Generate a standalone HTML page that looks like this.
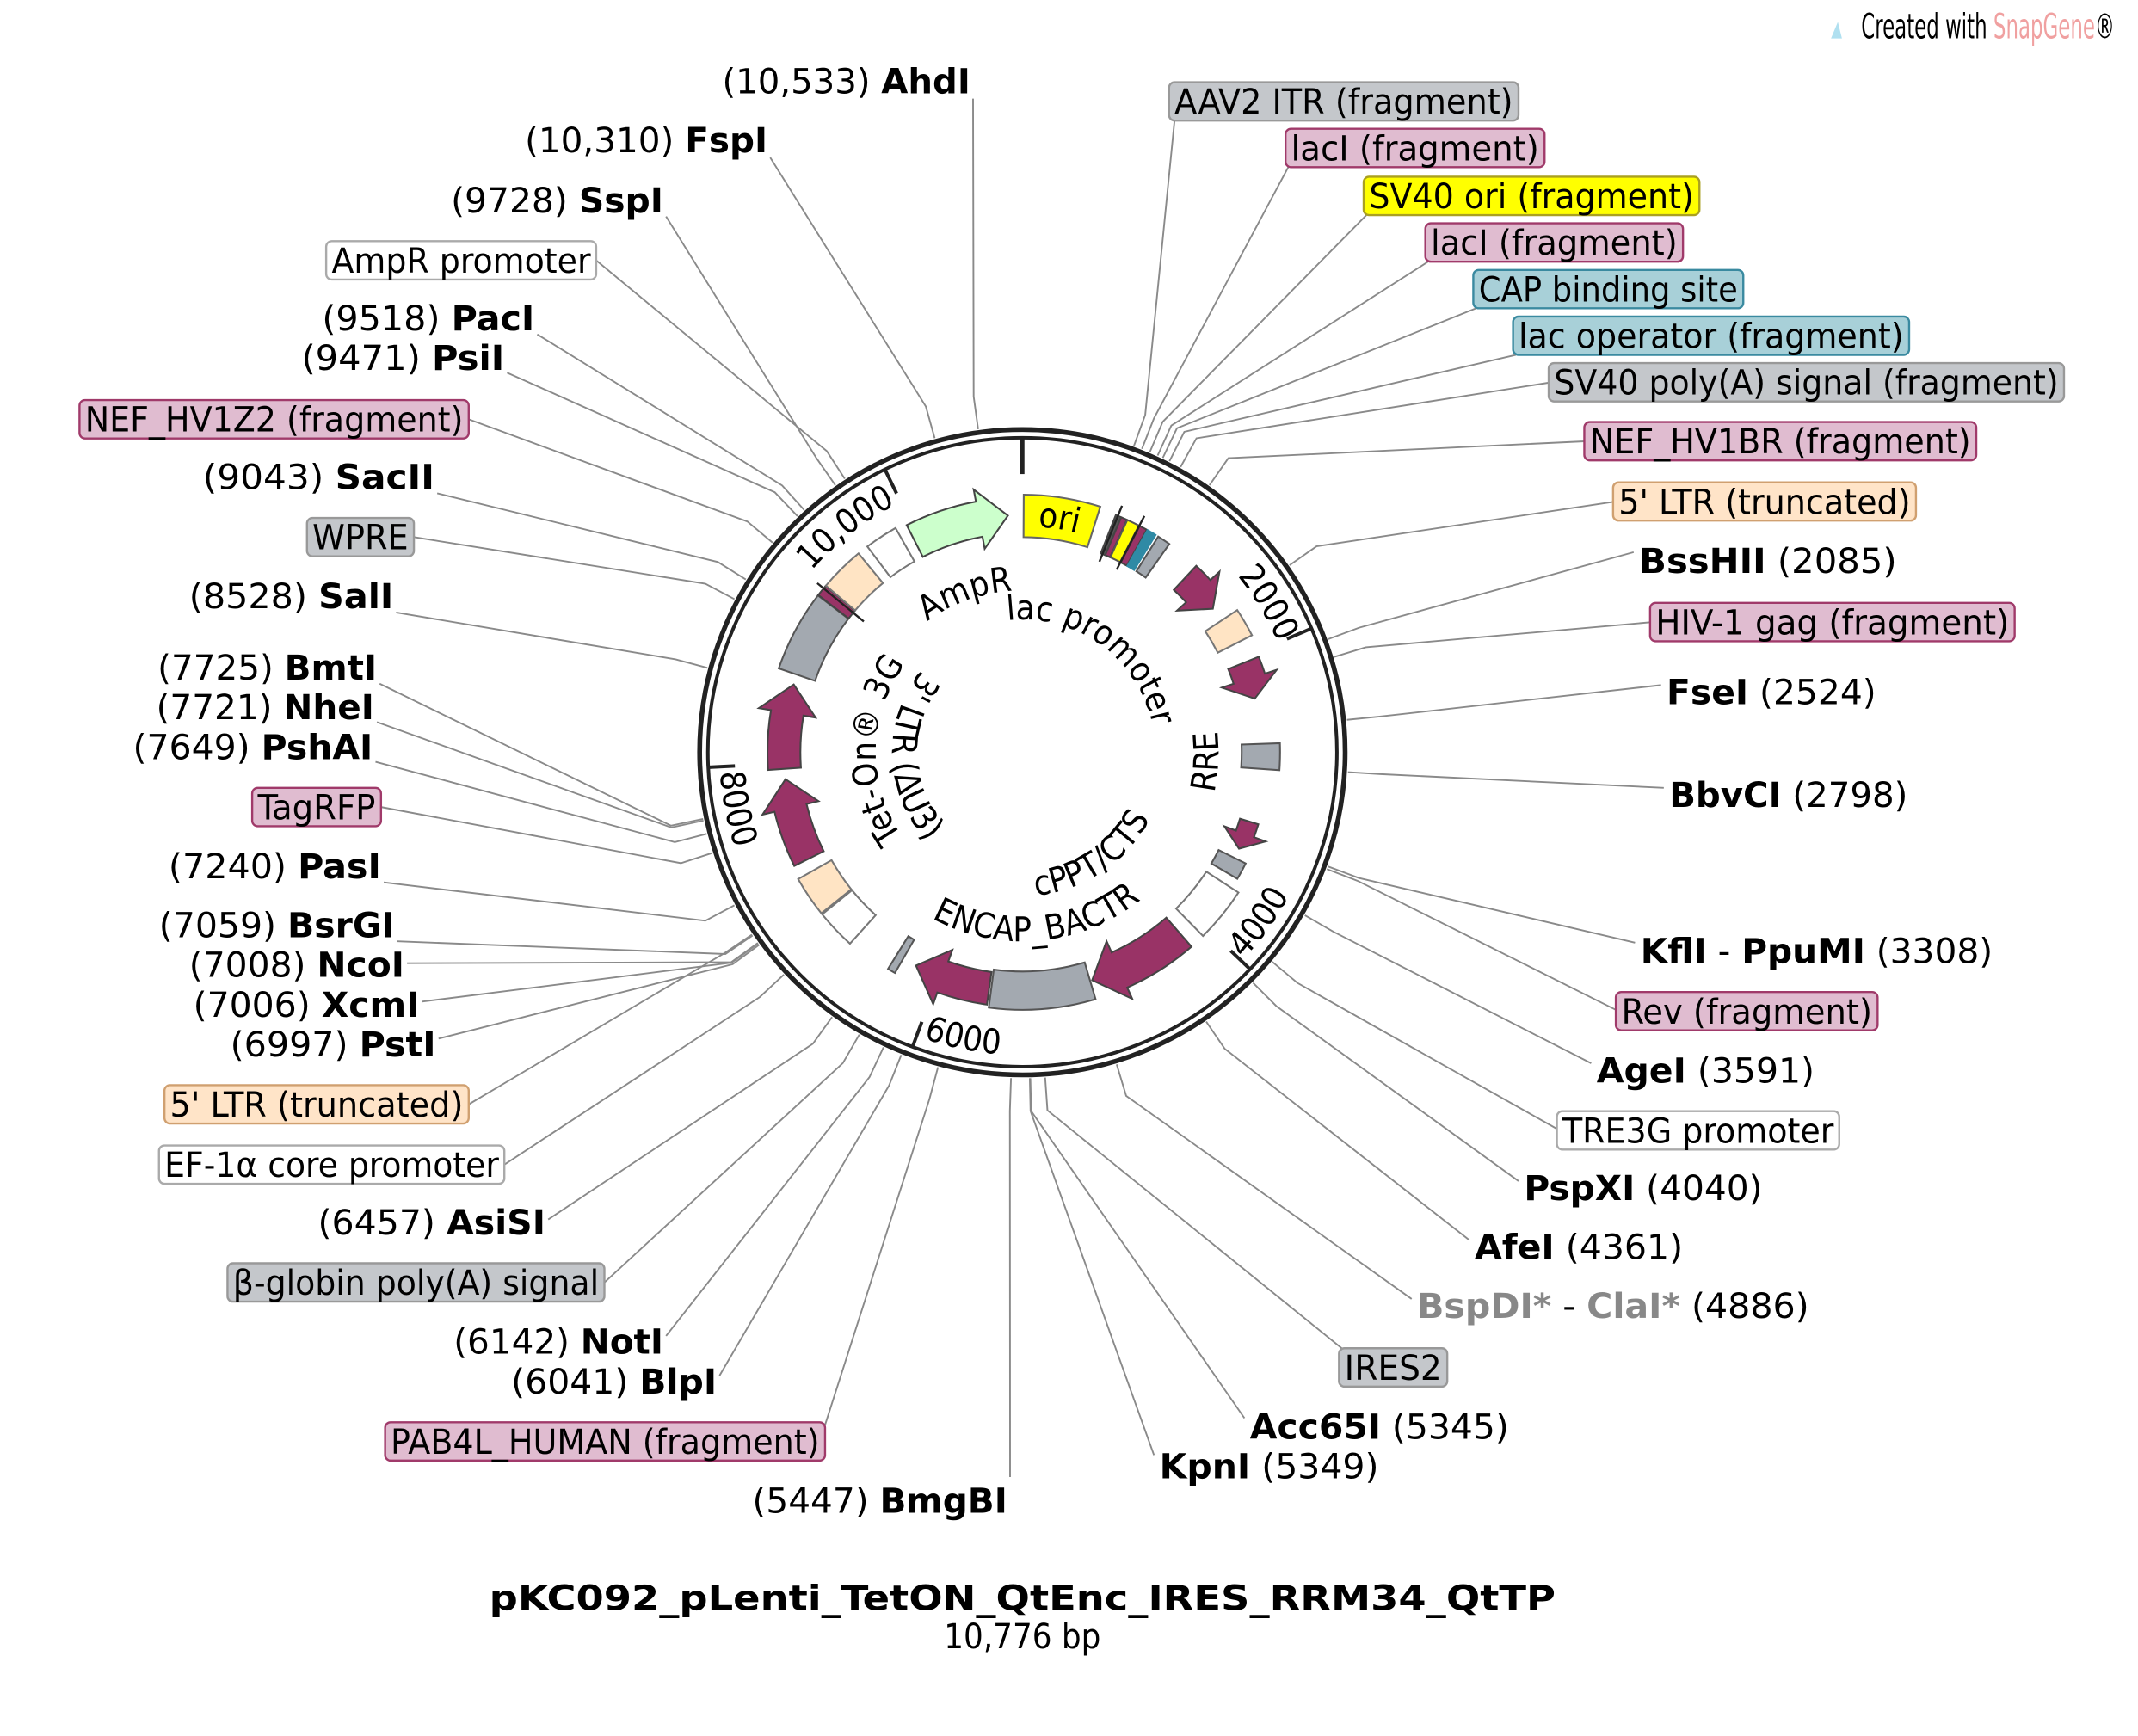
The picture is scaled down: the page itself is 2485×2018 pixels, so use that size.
<!DOCTYPE html>
<html><head><meta charset="utf-8">
<style>
html,body{margin:0;padding:0;background:#fff;}
svg{display:block;}
text{font-family:"DejaVu Sans Condensed","DejaVu Sans","Liberation Sans",sans-serif;font-size:25px;fill:#000;}
.b{font-weight:bold;}
</style></head>
<body>
<svg id="s" width="2485" height="2018" viewBox="0 0 1560 1267" preserveAspectRatio="none" xmlns="http://www.w3.org/2000/svg">
<defs>
<path id="cw203" d="M746,752 A203,203 0 0 1 746,346 A203,203 0 0 1 746,752"/>
<path id="ccw221" d="M746,328 A221,221 0 0 0 746,770 A221,221 0 0 0 746,328"/>
<path id="cw165" d="M746,714 A165,165 0 0 1 746,384 A165,165 0 0 1 746,714"/>
<path id="cw118" d="M746,667 A118,118 0 0 1 746,431 A118,118 0 0 1 746,667"/>
<path id="cw97" d="M746,646 A97,97 0 0 1 746,452 A97,97 0 0 1 746,646"/>
<path id="cw107" d="M746,656 A107,107 0 0 1 746,442 A107,107 0 0 1 746,656"/>
<path id="ccw143" d="M746,406 A143,143 0 0 0 746,692 A143,143 0 0 0 746,406"/>
<path id="ccw105" d="M746,444 A105,105 0 0 0 746,654 A105,105 0 0 0 746,444"/>
<path id="ccw138" d="M746,411 A138,138 0 0 0 746,687 A138,138 0 0 0 746,411"/>
<path id="ccw95" d="M746,454 A95,95 0 0 0 746,644 A95,95 0 0 0 746,454"/>
</defs>
<g id="lines" stroke="#8a8a8a" stroke-width="1.2" fill="none"></g>
<g id="boxes"></g>
<g id="feat"></g>
<circle cx="746" cy="549" r="235.5" fill="none" stroke="#222" stroke-width="3.5"/>
<circle cx="746" cy="549" r="229.5" fill="none" stroke="#222" stroke-width="2.5"/>
<g id="ticks" stroke="#222" stroke-width="2.5"></g>

<!-- ori label -->
<text font-size="23"><textPath href="#cw165" startOffset="52.5%" text-anchor="middle">ori</textPath></text>

<!-- tick labels -->
<text font-size="23"><textPath href="#cw203" startOffset="39.4%" text-anchor="middle">10,000</textPath></text>
<text font-size="23"><textPath href="#cw203" startOffset="66.3%" text-anchor="middle">2000</textPath></text>
<text font-size="23"><textPath href="#ccw221" startOffset="65.1%" text-anchor="middle">4000</textPath></text>
<text font-size="23"><textPath href="#ccw221" startOffset="46.75%" text-anchor="middle">6000</textPath></text>
<text font-size="23"><textPath href="#ccw221" startOffset="28.1%" text-anchor="middle">8000</textPath></text>

<!-- interior labels -->
<text font-size="25"><textPath href="#cw118" startOffset="44.5%" text-anchor="middle">AmpR</textPath></text>
<text font-size="25"><textPath href="#cw97" startOffset="60%" text-anchor="middle">lac promoter</textPath></text>
<text font-size="25"><textPath href="#ccw143" startOffset="74.2%" text-anchor="middle">RRE</textPath></text>
<text font-size="25"><textPath href="#ccw105" startOffset="59.4%" text-anchor="middle">cPPT/CTS</textPath></text>
<text font-size="25"><textPath href="#ccw138" startOffset="51.4%" text-anchor="middle">ENCAP_BACTR</textPath></text>
<text font-size="25"><textPath href="#cw107" startOffset="25.3%" text-anchor="middle">Tet-On® 3G</textPath></text>
<text font-size="25"><textPath href="#ccw95" startOffset="25.6%" text-anchor="middle">3' LTR (ΔU3)</textPath></text>

<!-- left enzyme labels -->
<g text-anchor="end" xml:space="preserve">
<text x="708" y="68" textLength="181" lengthAdjust="spacingAndGlyphs"><tspan>(10,533)  </tspan><tspan class="b">AhdI</tspan></text>
<text x="560" y="111" textLength="177" lengthAdjust="spacingAndGlyphs"><tspan>(10,310)  </tspan><tspan class="b">FspI</tspan></text>
<text x="484" y="155" textLength="155" lengthAdjust="spacingAndGlyphs"><tspan>(9728)  </tspan><tspan class="b">SspI</tspan></text>
<text x="390" y="241" textLength="155" lengthAdjust="spacingAndGlyphs"><tspan>(9518)  </tspan><tspan class="b">PacI</tspan></text>
<text x="368" y="270" textLength="148" lengthAdjust="spacingAndGlyphs"><tspan>(9471)  </tspan><tspan class="b">PsiI</tspan></text>
<text x="317" y="357" textLength="169" lengthAdjust="spacingAndGlyphs"><tspan>(9043)  </tspan><tspan class="b">SacII</tspan></text>
<text x="287" y="444" textLength="149" lengthAdjust="spacingAndGlyphs"><tspan>(8528)  </tspan><tspan class="b">SalI</tspan></text>
<text x="275" y="496" textLength="160" lengthAdjust="spacingAndGlyphs"><tspan>(7725)  </tspan><tspan class="b">BmtI</tspan></text>
<text x="273" y="525" textLength="159" lengthAdjust="spacingAndGlyphs"><tspan>(7721)  </tspan><tspan class="b">NheI</tspan></text>
<text x="272" y="554" textLength="175" lengthAdjust="spacingAndGlyphs"><tspan>(7649)  </tspan><tspan class="b">PshAI</tspan></text>
<text x="278" y="641" textLength="155" lengthAdjust="spacingAndGlyphs"><tspan>(7240)  </tspan><tspan class="b">PasI</tspan></text>
<text x="288" y="684" textLength="172" lengthAdjust="spacingAndGlyphs"><tspan>(7059)  </tspan><tspan class="b">BsrGI</tspan></text>
<text x="295" y="713" textLength="157" lengthAdjust="spacingAndGlyphs"><tspan>(7008)  </tspan><tspan class="b">NcoI</tspan></text>
<text x="306" y="742" textLength="165" lengthAdjust="spacingAndGlyphs"><tspan>(7006)  </tspan><tspan class="b">XcmI</tspan></text>
<text x="318" y="771" textLength="150" lengthAdjust="spacingAndGlyphs"><tspan>(6997)  </tspan><tspan class="b">PstI</tspan></text>
<text x="398" y="901" textLength="166" lengthAdjust="spacingAndGlyphs"><tspan>(6457)  </tspan><tspan class="b">AsiSI</tspan></text>
<text x="484" y="988" textLength="153" lengthAdjust="spacingAndGlyphs"><tspan>(6142)  </tspan><tspan class="b">NotI</tspan></text>
<text x="523" y="1017" textLength="150" lengthAdjust="spacingAndGlyphs"><tspan>(6041)  </tspan><tspan class="b">BlpI</tspan></text>
<text x="735" y="1104" textLength="186" lengthAdjust="spacingAndGlyphs"><tspan>(5447)  </tspan><tspan class="b">BmgBI</tspan></text>
</g>
<!-- right enzyme labels -->
<g xml:space="preserve">
<text x="1196" y="418" textLength="188" lengthAdjust="spacingAndGlyphs"><tspan class="b">BssHII</tspan><tspan>  (2085)</tspan></text>
<text x="1216" y="514" textLength="153" lengthAdjust="spacingAndGlyphs"><tspan class="b">FseI</tspan><tspan>  (2524)</tspan></text>
<text x="1218" y="589" textLength="174" lengthAdjust="spacingAndGlyphs"><tspan class="b">BbvCI</tspan><tspan>  (2798)</tspan></text>
<text x="1197" y="703" textLength="257" lengthAdjust="spacingAndGlyphs"><tspan class="b">KflI</tspan><tspan> - </tspan><tspan class="b">PpuMI</tspan><tspan>  (3308)</tspan></text>
<text x="1165" y="790" textLength="159" lengthAdjust="spacingAndGlyphs"><tspan class="b">AgeI</tspan><tspan>  (3591)</tspan></text>
<text x="1112" y="876" textLength="174" lengthAdjust="spacingAndGlyphs"><tspan class="b">PspXI</tspan><tspan>  (4040)</tspan></text>
<text x="1076" y="919" textLength="152" lengthAdjust="spacingAndGlyphs"><tspan class="b">AfeI</tspan><tspan>  (4361)</tspan></text>
<text x="1034" y="962" textLength="286" lengthAdjust="spacingAndGlyphs"><tspan class="b" fill="#888">BspDI*</tspan><tspan> - </tspan><tspan class="b" fill="#888">ClaI*</tspan><tspan>  (4886)</tspan></text>
<text x="912" y="1050" textLength="189" lengthAdjust="spacingAndGlyphs"><tspan class="b">Acc65I</tspan><tspan>  (5345)</tspan></text>
<text x="846" y="1079" textLength="160" lengthAdjust="spacingAndGlyphs"><tspan class="b">KpnI</tspan><tspan>  (5349)</tspan></text>
</g>

<!-- boxed labels -->
<g>
<text x="242" y="199" textLength="189" lengthAdjust="spacingAndGlyphs">AmpR promoter</text>
<text x="62" y="315" textLength="276" lengthAdjust="spacingAndGlyphs">NEF_HV1Z2 (fragment)</text>
<text x="228" y="401" textLength="70" lengthAdjust="spacingAndGlyphs">WPRE</text>
<text x="188" y="598" textLength="86" lengthAdjust="spacingAndGlyphs">TagRFP</text>
<text x="124" y="815" textLength="214" lengthAdjust="spacingAndGlyphs">5' LTR (truncated)</text>
<text x="120" y="859" textLength="244" lengthAdjust="spacingAndGlyphs">EF-1α core promoter</text>
<text x="170" y="945" textLength="267" lengthAdjust="spacingAndGlyphs">β-globin poly(A) signal</text>
<text x="285" y="1061" textLength="313" lengthAdjust="spacingAndGlyphs">PAB4L_HUMAN (fragment)</text>
<text x="857" y="83" textLength="247" lengthAdjust="spacingAndGlyphs">AAV2 ITR (fragment)</text>
<text x="942" y="117" textLength="181" lengthAdjust="spacingAndGlyphs">lacI (fragment)</text>
<text x="999" y="152" textLength="237" lengthAdjust="spacingAndGlyphs">SV40 ori (fragment)</text>
<text x="1044" y="186" textLength="180" lengthAdjust="spacingAndGlyphs">lacI (fragment)</text>
<text x="1079" y="220" textLength="189" lengthAdjust="spacingAndGlyphs">CAP binding site</text>
<text x="1108" y="254" textLength="281" lengthAdjust="spacingAndGlyphs">lac operator (fragment)</text>
<text x="1134" y="288" textLength="368" lengthAdjust="spacingAndGlyphs">SV40 poly(A) signal (fragment)</text>
<text x="1160" y="331" textLength="278" lengthAdjust="spacingAndGlyphs">NEF_HV1BR (fragment)</text>
<text x="1181" y="375" textLength="213" lengthAdjust="spacingAndGlyphs">5' LTR (truncated)</text>
<text x="1208" y="463" textLength="258" lengthAdjust="spacingAndGlyphs">HIV-1 gag (fragment)</text>
<text x="1183" y="747" textLength="183" lengthAdjust="spacingAndGlyphs">Rev (fragment)</text>
<text x="1140" y="834" textLength="198" lengthAdjust="spacingAndGlyphs">TRE3G promoter</text>
<text x="981" y="1007" textLength="71" lengthAdjust="spacingAndGlyphs">IRES2</text>
</g>

<text x="746" y="1175" text-anchor="middle" class="b" font-size="27" textLength="778" lengthAdjust="spacingAndGlyphs">pKC092_pLenti_TetON_QtEnc_IRES_RRM34_QtTP</text>
<text x="746" y="1203" text-anchor="middle" font-size="21">10,776 bp</text>
<text x="1358" y="28" font-size="16" fill="#c0c0c0" textLength="185" lengthAdjust="spacingAndGlyphs">Created with <tspan fill="#f0a0a0">SnapGene</tspan>®</text>
<path d="M1336,28 l5,-12 l3,12 z" fill="#b0e0f0"/>
</svg>
<script>
var cx=746,cy=549,NS="http://www.w3.org/2000/svg";
function P(a,r){var t=a*Math.PI/180;return [cx+r*Math.sin(t),cy-r*Math.cos(t)];}
function f(p){return p[0].toFixed(2)+","+p[1].toFixed(2);}
function add(g,tag,attrs){var e=document.createElementNS(NS,tag);for(var k in attrs)e.setAttribute(k,attrs[k]);document.getElementById(g).appendChild(e);return e;}
function arcPath(a1,a2,r1,r2){
 var l=(a2-a1)>180?1:0;
 return "M"+f(P(a1,r2))+" A"+r2+","+r2+" 0 "+l+",1 "+f(P(a2,r2))+" L"+f(P(a2,r1))+" A"+r1+","+r1+" 0 "+l+",0 "+f(P(a1,r1))+" Z";
}
function box(a1,a2,fill,stroke,r1,r2){add("feat","path",{d:arcPath(a1,a2,r1||160,r2||188),fill:fill,stroke:stroke||"#555","stroke-width":1.3});}
function arrow(a1,a2,fill,dir,r1,r2){
 r1=r1||162;r2=r2||186;var w=9,h=Math.min(7,(a2-a1)*0.55);
 var b=a2-h;
 var d="M"+f(P(a1,r2))+" A"+r2+","+r2+" 0 0,1 "+f(P(b,r2))+" L"+f(P(b,r2+w))+" L"+f(P(a2,(r1+r2)/2))+" L"+f(P(b,r1-w))+" L"+f(P(b,r1))+" A"+r1+","+r1+" 0 0,0 "+f(P(a1,r1))+" Z";
 add("feat","path",{d:d,fill:fill,stroke:"#444","stroke-width":1.3});
}
var M="#993366",G="#a3a9b0",PE="#ffe4c4",W="#ffffff";
box(0.3,17.6,"#ffff00","#666",157,188);
box(21.5,22.8,"#555","#444",156,186);
box(22.8,24.2,M,"#444",156,186);
box(24.3,27.2,"#ffff00","#555",156,186);
box(27.4,29.2,M,"#444",156,186);
for(var i=0;i<4;i++){box(29.4+i*0.6,29.7+i*0.6,"#5aa0b8","#2f8aa5",156,186);}
box(32.2,35.2,G,"#555",156,186);
arrow(43,53,M,1);
box(56.5,63,PE,"#777");
arrow(68,77,M,1);
box(88,94,G,"#555");
arrow(107,114,M,1,166,180);
box(116.5,120.5,G,"#555",160,182);
box(123,135.5,W,"#777");
arrow(139,163,M,1,160,188);
box(163.5,187.5,G,"#555");
arrow(188,206.5,M,1);
box(210,211.8,G,"#555",158,186);
box(222,231,W,"#777");
box(231.3,240.5,PE,"#777");
arrow(243.5,263.5,M,1);
arrow(266,286.5,M,1);
box(289,307.5,G,"#555");
box(307.6,310.2,M,"#444");
box(310.3,320.5,PE,"#777");
box(323,330.5,W,"#777",160,188);
arrow(333,356.5,"#ccffcc",1,160,186);
[22,27.3,309.5].forEach(function(a){var A=P(a,150),B=P(a,194);add("feat","line",{x1:A[0],y1:A[1],x2:B[0],y2:B[1],stroke:"#222","stroke-width":1.5});});
add("ticks","line",{x1:746,y1:549-229,x2:746,y2:549-203,"stroke-width":3});
[2000,4000,6000,8000,10000].forEach(function(p){var a=p/10776*360;var A=P(a,229),B=P(a,210);add("ticks","line",{x1:A[0],y1:A[1],x2:B[0],y2:B[1]});});
var L=[
[710,72,352.2],[562,115,344.4],[486,158,325],[435,190,327],[392,244,318],[370,272,316.4],[342,306,310],[319,360,302],[302,392,298],
[289,447,285],[277,499,258.2],[275,527,257.9],[274,556,255.5],[278,589,252],[280,644,242],[290,687,235.8],[297,703,234.2],[308,731,234.1],[320,758,233.8],
[342,806,236],[368,850,227],[400,890,215.7],[441,936,210],[486,975,205.2],[525,1004,201.8],[602,1040,195],[737,1078,182],
[857,88,20],[940,122,21.5],[997,157,23],[1042,191,24.5],[1077,225,25.5],[1106,259,26.8],[1132,279,29],[1158,322,35],[1179,366,55],[1192,403,69.7],
[1206,454,73],[1212,500,84.3],[1214,575,93.5],[1193,688,110.5],[1181,738,111],[1161,776,120],[1138,825,130],[1108,862,135],[1072,905,145.7],[1030,948,163.2],
[979,984,176],[908,1035,178.6],[842,1062,178.7]
];
L.forEach(function(l){var k=P(l[2],262),e=P(l[2],238);add("lines","polyline",{points:l[0]+","+l[1]+" "+f(k)+" "+f(e)});});
var B=[
[238,176,197,"#fff","#aaa"],[58,292,284,"#e0bcd0","#a03a6a"],[224,378,78,"#c4c7cb","#999"],[184,575,94,"#e0bcd0","#a03a6a"],
[120,792,222,"#ffe4c8","#d0a070"],[116,836,252,"#fff","#aaa"],[166,922,275,"#c4c7cb","#999"],[281,1038,321,"#e0bcd0","#a03a6a"],
[853,60,255,"#c4c7cb","#999"],[938,94,189,"#e0bcd0","#a03a6a"],[995,129,245,"#ffff00","#aaa020"],[1040,163,188,"#e0bcd0","#a03a6a"],
[1075,197,197,"#a8d0d8","#3a8aa0"],[1104,231,289,"#a8d0d8","#3a8aa0"],[1130,265,376,"#c4c7cb","#999"],[1156,308,286,"#e0bcd0","#a03a6a"],
[1177,352,221,"#ffe4c8","#d0a070"],[1204,440,266,"#e0bcd0","#a03a6a"],[1179,724,191,"#e0bcd0","#a03a6a"],[1136,811,206,"#fff","#aaa"],[977,984,79,"#c4c7cb","#999"]
];
B.forEach(function(b){add("boxes","rect",{x:b[0],y:b[1],width:b[2],height:28,rx:4,fill:b[3],stroke:b[4],"stroke-width":1.5});});
</script>
</body></html>
